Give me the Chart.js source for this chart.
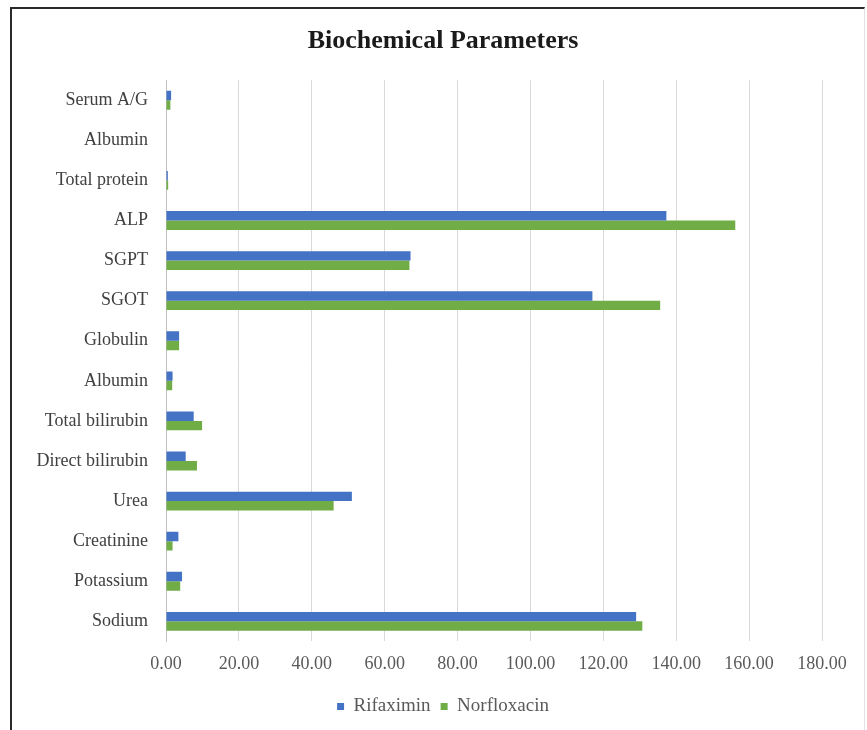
<!DOCTYPE html>
<html>
<head>
<meta charset="utf-8">
<script src="https://cdn.jsdelivr.net/npm/chart.js@4.4.1/dist/chart.umd.min.js"></script>
<style>
  html, body { margin: 0; padding: 0; background: #ffffff; overflow: hidden; }
  #wrap { position: relative; width: 867px; height: 730px; }
  #chart { position: absolute; left: 0; top: 0; }
  #frame {
    position: absolute; left: 10px; top: 7px; width: 852px; height: 760px;
    border-top: 2px solid #2a2a2a; border-left: 2px solid #2a2a2a;
    border-right: 1px solid #e2e2e2; pointer-events: none;
  }
</style>
</head>
<body>
<div id="wrap">
  <canvas id="chart" width="867" height="730"></canvas>
  <div id="frame"></div>
</div>
<script>
// Parameters, listed top to bottom as they appear on the chart
const categories = [
  'Serum A/G', 'Albumin', 'Total protein', 'ALP', 'SGPT', 'SGOT', 'Globulin',
  'Albumin', 'Total bilirubin', 'Direct bilirubin', 'Urea', 'Creatinine',
  'Potassium', 'Sodium'
];
const rifaximin   = [1.4, 0.0, 0.5, 137.3, 67.1, 117.0, 3.6, 1.8, 7.6, 5.4, 51.0, 3.4, 4.4, 129.0];
const norfloxacin = [1.2, 0.0, 0.6, 156.2, 66.8, 135.6, 3.6, 1.7, 9.9, 8.5, 46.0, 1.8, 3.9, 130.7];
const xTicks = [0, 20, 40, 60, 80, 100, 120, 140, 160, 180];

const serif = '"Liberation Serif", "Times New Roman", serif';
const textGrey = '#595959';

new Chart(document.getElementById('chart'), {
  type: 'bar',
  data: {
    labels: categories,
    datasets: [
      { label: 'Rifaximin', data: rifaximin, backgroundColor: '#4472C4', borderWidth: 0 },
      { label: 'Norfloxacin', data: norfloxacin, backgroundColor: '#70AD47', borderWidth: 0 }
    ]
  },
  options: {
    indexAxis: 'y',
    responsive: false,
    animation: false,
    datasets: { bar: { categoryPercentage: 0.47, barPercentage: 1.0 } },
    layout: { padding: { left: 30, right: 11, top: 0, bottom: 4 } },
    plugins: {
      title: {
        display: true,
        text: 'Biochemical Parameters',
        color: '#1a1a1a',
        font: { family: serif, size: 26, weight: 'bold' },
        padding: { top: 26, bottom: 23 }
      },
      legend: {
        position: 'bottom',
        labels: {
          color: textGrey,
          font: { family: serif, size: 19 },
          boxWidth: 7,
          boxHeight: 7,
          padding: 10
        }
      },
      tooltip: { enabled: false }
    },
    scales: {
      x: {
        min: 0,
        max: 180,
        afterBuildTicks: (axis) => { axis.ticks = xTicks.map(v => ({ value: v })); },
        afterFit: (axis) => { axis.paddingRight = 45; },
        ticks: {
          color: textGrey,
          font: { family: serif, size: 18 },
          padding: 12,
          callback: (v) => Number(v).toFixed(2)
        },
        grid: { color: '#d9d9d9', lineWidth: 1, drawTicks: false },
        border: { display: false }
      },
      y: {
        afterFit: (axis) => { axis.width = 136; },
        ticks: {
          color: '#404040',
          font: { family: serif, size: 18 },
          padding: 18,
          autoSkip: false
        },
        grid: { display: false, drawTicks: false },
        border: { display: true, color: '#bfbfbf', width: 1 }
      }
    }
  }
});
</script>
</body>
</html>
